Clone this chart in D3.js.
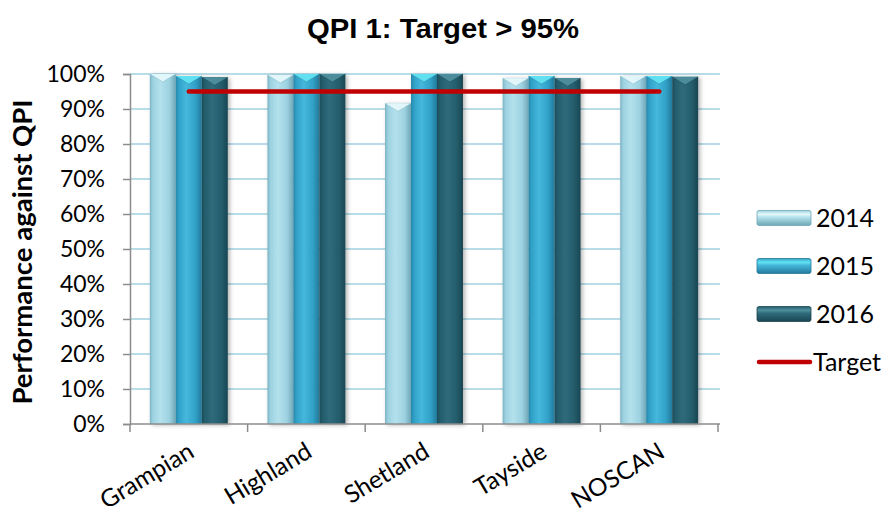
<!DOCTYPE html>
<html>
<head>
<meta charset="utf-8">
<script src="https://cdn.jsdelivr.net/npm/d3@7"></script>
<style>
  html, body { margin: 0; padding: 0; background: #ffffff; }
  svg { display: block; }
</style>
</head>
<body>
<svg id="chart" width="886" height="513"></svg>
<script>
// QPI 1 performance by board, 2014–2016, against the 95% target
const categories = ["Grampian", "Highland", "Shetland", "Tayside", "NOSCAN"];
const years = ["2014", "2015", "2016"];
const values2014 = [100, 99.7, 91.6, 98.8, 99.4];
const values2015 = [99.4, 100, 100, 99.4, 99.4];
const values2016 = [99.1, 100, 100, 98.8, 99.2];
const targetValues = [95, 95, 95, 95, 95];
const yTickValues = [0, 10, 20, 30, 40, 50, 60, 70, 80, 90, 100];
const titleText = "QPI 1: Target > 95%";
const yTitleText = "Performance against QPI";
const targetLabel = "Target";

const seriesValues = [values2014, values2015, values2016];

// Glass-style palette for each year: edge, highlight, body, cap
const palette = {
  "2014": { edge: "#7db4c4", light: "#b3e1ec", body: "#9dd2e1", cap: "#e4f8fb", dark: "#6fa6b6" },
  "2015": { edge: "#2788aa", light: "#45b8dc", body: "#31a1c8", cap: "#62e3f1", dark: "#23799a" },
  "2016": { edge: "#1c4c59", light: "#2f6b7b", body: "#245d6c", cap: "#4f8f9d", dark: "#1a4652" }
};

const svg = d3.select("#chart");
const defs = svg.append("defs");

// soft shadow behind bars
const shadow = defs.append("filter").attr("id", "barShadow")
  .attr("x", "-30%").attr("y", "-5%").attr("width", "160%").attr("height", "115%");
shadow.append("feDropShadow").attr("dx", 2).attr("dy", 1).attr("stdDeviation", 2)
  .attr("flood-color", "#000").attr("flood-opacity", 0.3);

years.forEach(y => {
  const p = palette[y];
  const g = defs.append("linearGradient").attr("id", "bar" + y)
    .attr("x1", "0%").attr("x2", "100%").attr("y1", "0%").attr("y2", "0%");
  g.append("stop").attr("offset", "0%").attr("stop-color", p.edge);
  g.append("stop").attr("offset", "12%").attr("stop-color", p.body);
  g.append("stop").attr("offset", "40%").attr("stop-color", p.light);
  g.append("stop").attr("offset", "75%").attr("stop-color", p.body);
  g.append("stop").attr("offset", "100%").attr("stop-color", p.dark);

  const lg = defs.append("linearGradient").attr("id", "leg" + y)
    .attr("x1", "0%").attr("x2", "0%").attr("y1", "0%").attr("y2", "100%");
  lg.append("stop").attr("offset", "0%").attr("stop-color", p.body);
  lg.append("stop").attr("offset", "25%").attr("stop-color", p.cap);
  lg.append("stop").attr("offset", "45%").attr("stop-color", p.light);
  lg.append("stop").attr("offset", "100%").attr("stop-color", p.dark);
});

// Plot geometry
const plot = { left: 130, right: 718, top: 74, bottom: 424 };

const x = d3.scaleBand()
  .domain(categories)
  .range([plot.left, plot.right])
  .paddingInner(0.337)
  .paddingOuter(0.337 / 2);

const xSub = d3.scaleBand()
  .domain(years)
  .range([0, x.bandwidth()])
  .padding(0);

const y = d3.scaleLinear()
  .domain([0, 100])
  .range([plot.bottom, plot.top]);

// Horizontal gridlines
svg.append("g")
  .selectAll("line")
  .data(yTickValues.filter(v => v > 0))
  .join("line")
  .attr("x1", plot.left)
  .attr("x2", plot.right + 2)
  .attr("y1", d => y(d))
  .attr("y2", d => y(d))
  .attr("stroke", "#b8dde8")
  .attr("stroke-width", 2);

// Y axis with percentage labels
const yAxis = d3.axisLeft(y)
  .tickValues(yTickValues)
  .tickFormat(d => d + "%")
  .tickSize(7)
  .tickPadding(18);

const yG = svg.append("g")
  .attr("transform", `translate(${plot.left},0)`)
  .call(yAxis);
yG.select(".domain").attr("stroke", "#8c8c8c").attr("stroke-width", 1.5);
yG.selectAll(".tick line").attr("stroke", "#8c8c8c").attr("stroke-width", 1.5);
yG.selectAll(".tick text")
  .attr("font-family", "Lato, 'Open Sans', sans-serif")
  .attr("font-size", 23)
  .attr("fill", "#000");

// Bars
const groups = svg.append("g")
  .selectAll("g")
  .data(categories)
  .join("g")
  .attr("transform", d => `translate(${x(d)},0)`)
  .attr("filter", "url(#barShadow)");

groups.each(function (cat, ci) {
  const g = d3.select(this);
  years.forEach((yr, si) => {
    const v = seriesValues[si][ci];
    const x0 = xSub(yr);
    const w = xSub.bandwidth();
    const top = y(v);
    g.append("rect")
      .attr("x", x0)
      .attr("y", top)
      .attr("width", w)
      .attr("height", y(0) - top)
      .attr("fill", `url(#bar${yr})`);
    // faceted cap at the top of each bar
    g.append("path")
      .attr("d", `M${x0},${top} L${x0 + w},${top} L${x0 + w / 2},${top + 8} Z`)
      .attr("fill", palette[yr].cap)
      .attr("opacity", 0.95);
    g.append("path")
      .attr("d", `M${x0},${top} L${x0 + w / 2},${top + 8} L${x0 + w},${top}`)
      .attr("fill", "none")
      .attr("stroke", palette[yr].edge)
      .attr("stroke-width", 0.8)
      .attr("opacity", 0.6);
  });
});

// X axis with category boundary ticks
svg.append("line")
  .attr("x1", plot.left).attr("x2", plot.right + 2)
  .attr("y1", plot.bottom).attr("y2", plot.bottom)
  .attr("stroke", "#8c8c8c").attr("stroke-width", 1.5);

const boundaries = categories.map(c => x(c) - x.step() * x.paddingInner() / 2)
  .concat([plot.right]);
svg.append("g")
  .selectAll("line")
  .data(boundaries)
  .join("line")
  .attr("x1", d => d).attr("x2", d => d)
  .attr("y1", plot.bottom).attr("y2", plot.bottom + 8)
  .attr("stroke", "#8c8c8c").attr("stroke-width", 1.5);

// Rotated category labels
svg.append("g")
  .selectAll("text")
  .data(categories)
  .join("text")
  .attr("transform", d => `translate(${x(d) + x.bandwidth() / 2 + 7},${plot.bottom + 32}) rotate(-31)`)
  .attr("text-anchor", "end")
  .attr("font-family", "Lato, 'Open Sans', sans-serif")
  .attr("font-size", 24.5)
  .attr("fill", "#000")
  .text(d => d);

// Target line across category centres
const line = d3.line()
  .x((d, i) => x(categories[i]) + x.bandwidth() / 2)
  .y(d => y(d));

svg.append("path")
  .datum(targetValues)
  .attr("d", line)
  .attr("fill", "none")
  .attr("stroke", "#c00000")
  .attr("stroke-width", 4.5)
  .attr("stroke-linecap", "round");

// Title
svg.append("text")
  .attr("x", 443)
  .attr("y", 38)
  .attr("text-anchor", "middle")
  .attr("font-family", "'Liberation Sans', Arial, sans-serif")
  .attr("font-weight", "bold")
  .attr("font-size", 28)
  .attr("textLength", 272)
  .attr("lengthAdjust", "spacingAndGlyphs")
  .attr("fill", "#000")
  .text(titleText);

// Y axis title
svg.append("text")
  .attr("transform", "translate(32,252) rotate(-90)")
  .attr("text-anchor", "middle")
  .attr("font-family", "Lato, 'Open Sans', sans-serif")
  .attr("font-weight", "bold")
  .attr("font-size", 26)
  .attr("textLength", 305)
  .attr("lengthAdjust", "spacingAndGlyphs")
  .attr("fill", "#000")
  .text(yTitleText);

// Legend
const legendY = d3.scalePoint()
  .domain(years.concat([targetLabel]))
  .range([218, 362]);

const legend = svg.append("g");
years.forEach(yr => {
  const cy = legendY(yr);
  legend.append("rect")
    .attr("x", 757).attr("y", cy - 7.5)
    .attr("width", 54).attr("height", 15)
    .attr("rx", 2)
    .attr("fill", `url(#leg${yr})`)
    .attr("stroke", palette[yr].dark)
    .attr("stroke-width", 0.8);
  legend.append("text")
    .attr("x", 816).attr("y", cy)
    .attr("dy", "0.36em")
    .attr("font-family", "Lato, 'Open Sans', sans-serif")
    .attr("font-size", 25)
    .attr("fill", "#000")
    .text(yr);
});
const ty = legendY(targetLabel);
legend.append("line")
  .attr("x1", 759).attr("x2", 810)
  .attr("y1", ty).attr("y2", ty)
  .attr("stroke", "#c00000")
  .attr("stroke-width", 4.5)
  .attr("stroke-linecap", "round");
legend.append("text")
  .attr("x", 813).attr("y", ty)
  .attr("dy", "0.36em")
  .attr("font-family", "Lato, 'Open Sans', sans-serif")
  .attr("font-size", 25)
  .attr("fill", "#000")
  .text(targetLabel);
</script>
</body>
</html>
